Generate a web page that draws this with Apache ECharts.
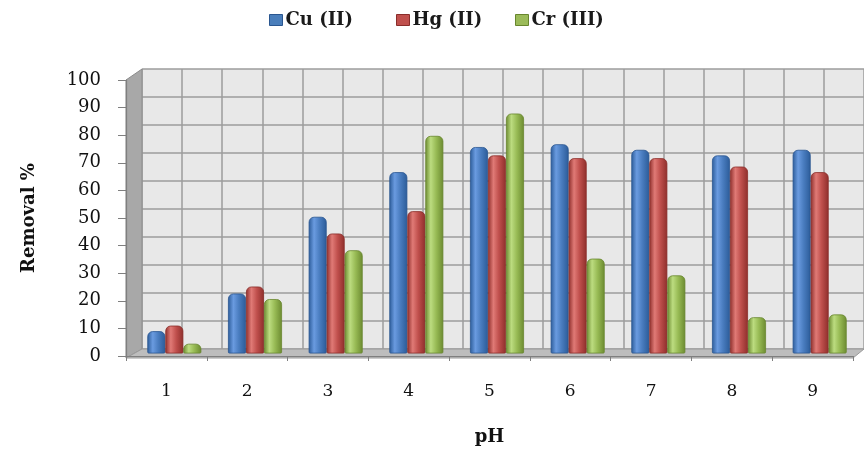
<!DOCTYPE html>
<html>
<head>
<meta charset="utf-8">
<script src="https://cdn.jsdelivr.net/npm/echarts@6/dist/echarts.min.js"></script>
<style>html,body{margin:0;padding:0;background:#fff;}#c{width:864px;height:451px;}</style>
</head>
<body>
<div id="c"></div>
<script>
// ---- data ----
const categories = ['1', '2', '3', '4', '5', '6', '7', '8', '9'];
const seriesNames = ['Cu (II)', 'Hg (II)', 'Cr (III)'];
const cuValues = [8, 21.5, 49, 65, 74, 75, 73, 71, 73];
const hgValues = [10, 24, 43, 51, 71, 70, 70, 67, 65];
const crValues = [3.5, 19.5, 37, 78, 86, 34, 28, 13, 14];
const yTicks = [0, 10, 20, 30, 40, 50, 60, 70, 80, 90, 100];

// ---- style ----
const FONT = 'DejaVu Serif';
function cyl(dark, mid, light) {
  return {
    type: 'linear', x: 0, y: 0, x2: 1, y2: 0,
    colorStops: [
      { offset: 0, color: dark },
      { offset: 0.3, color: light },
      { offset: 0.6, color: mid },
      { offset: 1, color: dark }
    ]
  };
}
const barColors = [
  { fill: cyl('#2b5b98', '#4a7dc0', '#6a9be0'), border: '#2a5690', legend: '#4a7ebb' },
  { fill: cyl('#8e2e2b', '#c0504d', '#e07a76'), border: '#8a2d2a', legend: '#c0504d' },
  { fill: cyl('#6b8a30', '#98bb55', '#bcdc80'), border: '#68862e', legend: '#9bbb59' }
];
const valueSets = [cuValues, hgValues, crValues];
const legendLefts = [264, 391, 510];

// layout (front axes, back wall, bar plane)
const FRONT = { left: 126, right: 11, top: 80, bottom: 93 };
const BACK = { left: 142, right: 0, top: 69, bottom: 102 };
const BARS = { left: 134, right: 4, top: 74.5, bottom: 97.5 };
const W = 864, H = 451;

const chart = echarts.init(document.getElementById('c'), null, { renderer: 'canvas' });

const series = seriesNames.map((name, i) => ({
  name: name,
  type: 'bar',
  xAxisIndex: 2,
  yAxisIndex: 2,
  data: valueSets[i],
  barWidth: 18,
  barGap: '0%',
  z: 5,
  itemStyle: {
    color: barColors[i].fill,
    borderColor: barColors[i].border,
    borderWidth: 0.8,
    borderRadius: [5, 5, 1, 1]
  }
}));

const fl = W - FRONT.right, fb = H - FRONT.bottom;
const bl = W - BACK.right, bb = H - BACK.bottom;

chart.setOption({
  animation: false,
  backgroundColor: '#ffffff',
  color: barColors.map(c => c.legend),
  legend: seriesNames.map((n, i) => ({
    data: [{ name: n, itemStyle: { color: barColors[i].legend, borderColor: barColors[i].border, borderWidth: 1 } }],
    left: legendLefts[i],
    top: 6,
    itemWidth: 13,
    itemHeight: 11,
    icon: 'rect',
    textStyle: { fontFamily: FONT, fontSize: 18, fontWeight: 'bold', color: '#1a1a1a', padding: [0, 0, 0, -2] }
  })),
  grid: [
    Object.assign({ containLabel: false }, FRONT),
    Object.assign({ show: true, backgroundColor: '#e8e8e8', borderWidth: 0 }, BACK),
    Object.assign({}, BARS)
  ],
  graphic: [
    { type: 'polygon', z: 1, shape: { points: [[FRONT.left, FRONT.top], [BACK.left, BACK.top], [BACK.left, bb], [FRONT.left, fb]] },
      style: { fill: '#a8a8a8', stroke: '#8c8c8c', lineWidth: 1 } },
    { type: 'polygon', z: 1, shape: { points: [[FRONT.left, fb], [BACK.left, bb], [bl, bb], [fl, fb]] },
      style: { fill: '#bdbdbd', stroke: '#9a9a9a', lineWidth: 1 } }
  ],
  xAxis: [
    {
      gridIndex: 0, type: 'category', data: categories, boundaryGap: true, z: 6,
      axisLine: { lineStyle: { color: '#7f7f7f', width: 1.2 } },
      axisTick: { show: true, length: 5, lineStyle: { color: '#7f7f7f' } },
      axisLabel: { fontFamily: FONT, fontSize: 17, color: '#111', margin: 27 },
      name: 'pH', nameLocation: 'middle', nameGap: 72,
      nameTextStyle: { fontFamily: FONT, fontSize: 18, fontWeight: 'bold', color: '#111' }
    },
    {
      gridIndex: 1, type: 'value', min: 0, max: 18, interval: 1,
      axisLine: { show: false }, axisTick: { show: false }, axisLabel: { show: false },
      splitLine: { show: true, lineStyle: { color: '#9c9c9c', width: 1.5 } }
    },
    { gridIndex: 2, type: 'category', data: categories, show: false }
  ],
  yAxis: [
    {
      gridIndex: 0, type: 'value', min: 0, max: 100, interval: 10, z: 6,
      axisLine: { show: true, lineStyle: { color: '#7f7f7f', width: 1.2 } },
      axisTick: { show: true, length: 8, lineStyle: { color: '#7f7f7f' } },
      axisLabel: { fontFamily: FONT, fontSize: 18, color: '#111', margin: 25,
        formatter: v => (yTicks.indexOf(v) >= 0 ? String(v) : '') },
      splitLine: { show: false },
      name: 'Removal %', nameLocation: 'middle', nameGap: 88, nameRotate: 90,
      nameTextStyle: { fontFamily: FONT, fontSize: 18, fontWeight: 'bold', color: '#111' }
    },
    {
      gridIndex: 1, type: 'value', min: 0, max: 100, interval: 10,
      axisLine: { show: false }, axisTick: { show: false }, axisLabel: { show: false },
      splitLine: { show: true, lineStyle: { color: '#9c9c9c', width: 1.5 } }
    },
    { gridIndex: 2, type: 'value', min: 0, max: 100, show: false, splitLine: { show: false } }
  ],
  series: series
});
</script>
</body>
</html>
